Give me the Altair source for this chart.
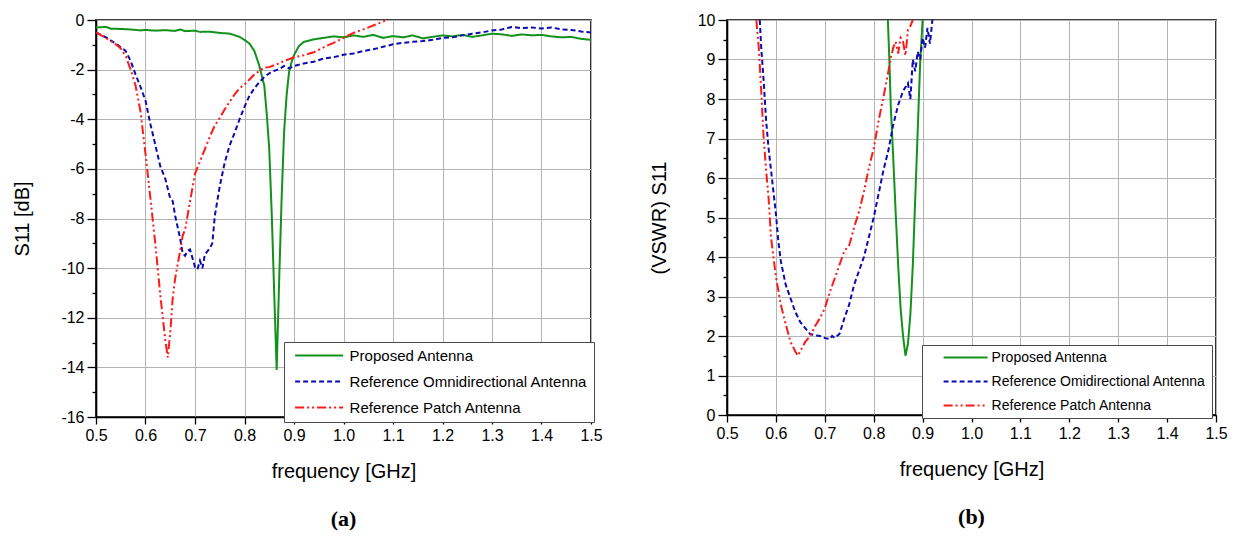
import altair as alt
import pandas as pd

# ---------------- data ----------------
NAMES_A = ["Proposed Antenna", "Reference Omnidirectional Antenna", "Reference Patch Antenna"]
NAMES_B = ["Proposed Antenna", "Reference Omidirectional Antenna", "Reference Patch Antenna"]

# Panel (a): S11 [dB]
a_prop_f = [0.50, 0.52, 0.53, 0.55, 0.57, 0.59, 0.60, 0.62, 0.64, 0.66, 0.67, 0.68, 0.70, 0.71, 0.73,
            0.75, 0.77, 0.79, 0.80, 0.81, 0.82, 0.83, 0.84, 0.845, 0.85, 0.855, 0.86, 0.865, 0.87,
            0.875, 0.88, 0.885, 0.89, 0.895, 0.90, 0.91, 0.92, 0.94, 0.96, 0.98, 1.00, 1.02, 1.04,
            1.06, 1.08, 1.10, 1.12, 1.14, 1.16, 1.18, 1.20, 1.22, 1.24, 1.26, 1.28, 1.30, 1.32,
            1.34, 1.36, 1.38, 1.40, 1.42, 1.44, 1.46, 1.48, 1.50]
a_prop_v = [-0.30, -0.28, -0.35, -0.36, -0.38, -0.42, -0.40, -0.43, -0.41, -0.44, -0.38, -0.45, -0.43,
            -0.48, -0.47, -0.52, -0.55, -0.68, -0.80, -0.95, -1.25, -1.85, -2.65, -3.80, -5.20, -7.80,
            -11.0, -14.1, -10.5, -7.20, -4.50, -3.05, -2.10, -1.70, -1.42, -1.05, -0.88, -0.78, -0.72,
            -0.66, -0.70, -0.62, -0.68, -0.60, -0.72, -0.65, -0.70, -0.62, -0.74, -0.68, -0.62, -0.66,
            -0.60, -0.68, -0.62, -0.55, -0.58, -0.64, -0.58, -0.62, -0.60, -0.66, -0.70, -0.68, -0.76,
            -0.80]

a_omni_f = [0.50, 0.52, 0.54, 0.55, 0.56, 0.57, 0.58, 0.59, 0.60, 0.61, 0.62, 0.63, 0.64, 0.65, 0.655,
            0.66, 0.67, 0.675, 0.68, 0.685, 0.69, 0.695, 0.70, 0.705, 0.71, 0.715, 0.72, 0.73, 0.735,
            0.74, 0.75, 0.76, 0.77, 0.78, 0.79, 0.80, 0.81, 0.82, 0.83, 0.84, 0.85, 0.86, 0.87, 0.88,
            0.89, 0.90, 0.92, 0.94, 0.96, 0.98, 1.00, 1.02, 1.04, 1.06, 1.08, 1.10, 1.12, 1.14, 1.16,
            1.18, 1.20, 1.22, 1.24, 1.26, 1.28, 1.30, 1.32, 1.34, 1.36, 1.38, 1.40, 1.42, 1.44, 1.46,
            1.48, 1.50]
a_omni_v = [-0.50, -0.70, -0.95, -1.10, -1.25, -1.65, -2.20, -2.70, -3.25, -4.20, -5.05, -5.90, -6.40,
            -7.20, -7.30, -7.90, -8.80, -9.40, -9.50, -9.30, -9.25, -9.60, -9.95, -10.05, -9.70, -10.0,
            -9.45, -9.20, -9.00, -7.90, -6.70, -5.75, -5.05, -4.55, -4.00, -3.50, -3.05, -2.75, -2.50,
            -2.30, -2.15, -2.05, -1.98, -1.85, -1.95, -1.85, -1.75, -1.68, -1.55, -1.50, -1.40, -1.35,
            -1.25, -1.18, -1.08, -0.98, -0.92, -0.88, -0.85, -0.80, -0.72, -0.70, -0.62, -0.55, -0.50,
            -0.42, -0.38, -0.28, -0.33, -0.30, -0.34, -0.30, -0.38, -0.40, -0.46, -0.50]

a_patch_f = [0.50, 0.52, 0.54, 0.55, 0.56, 0.57, 0.58, 0.59, 0.60, 0.61, 0.62, 0.63, 0.64, 0.645, 0.65,
             0.655, 0.66, 0.67, 0.675, 0.68, 0.69, 0.70, 0.71, 0.72, 0.73, 0.74, 0.75, 0.76, 0.77, 0.78,
             0.79, 0.80, 0.81, 0.82, 0.83, 0.84, 0.85, 0.86, 0.87, 0.88, 0.89, 0.90, 0.92, 0.94, 0.96,
             0.98, 1.00, 1.02, 1.04, 1.06, 1.08, 1.09]
a_patch_v = [-0.50, -0.72, -0.98, -1.15, -1.45, -2.00, -2.65, -3.70, -5.40, -7.20, -9.05, -11.1, -12.9,
             -13.6, -12.6, -11.2, -10.4, -9.30, -8.70, -8.45, -7.30, -6.20, -5.70, -5.20, -4.70, -4.25,
             -3.95, -3.60, -3.30, -3.00, -2.75, -2.60, -2.40, -2.20, -2.05, -1.92, -1.90, -1.82, -1.75,
             -1.65, -1.58, -1.50, -1.42, -1.30, -1.10, -0.92, -0.72, -0.52, -0.38, -0.22, -0.06, 0.00]

# Panel (b): VSWR
b_prop_f = [0.829, 0.832, 0.835, 0.840, 0.845, 0.850, 0.855, 0.860, 0.865, 0.870, 0.875, 0.880, 0.885,
            0.890, 0.895, 0.900]
b_prop_v = [10.0, 9.0, 7.8, 6.5, 5.1, 3.8, 2.7, 2.0, 1.5, 1.8, 2.55, 3.8, 5.5, 7.2, 8.9, 10.0]

b_omni_f = [0.567, 0.570, 0.575, 0.580, 0.585, 0.590, 0.595, 0.600, 0.605, 0.610, 0.620, 0.630, 0.640,
            0.650, 0.660, 0.670, 0.680, 0.690, 0.700, 0.710, 0.715, 0.720, 0.730, 0.740, 0.750, 0.760,
            0.770, 0.780, 0.790, 0.800, 0.810, 0.820, 0.830, 0.840, 0.850, 0.860, 0.870, 0.875, 0.880,
            0.885, 0.890, 0.895, 0.900, 0.905, 0.910, 0.915, 0.920]
b_omni_v = [10.0, 9.3, 8.45, 7.45, 6.75, 6.2, 5.65, 5.1, 4.4, 3.9, 3.3, 2.95, 2.6, 2.35, 2.2, 2.05, 2.02,
            2.0, 1.95, 1.92, 2.0, 1.95, 2.05, 2.45, 2.8, 3.3, 3.65, 4.0, 4.5, 5.0, 5.6, 6.2, 6.7, 7.35,
            7.85, 8.2, 8.4, 8.0, 9.0, 8.7, 9.2, 9.0, 9.55, 9.3, 9.8, 9.4, 10.0]

b_patch_f = [0.560, 0.565, 0.570, 0.575, 0.580, 0.585, 0.590, 0.595, 0.600, 0.610, 0.620, 0.630, 0.640,
             0.645, 0.650, 0.660, 0.670, 0.680, 0.690, 0.700, 0.710, 0.720, 0.730, 0.740, 0.750, 0.760,
             0.770, 0.780, 0.790, 0.800, 0.810, 0.820, 0.830, 0.835, 0.840, 0.845, 0.850, 0.855, 0.860,
             0.865, 0.870, 0.875, 0.880]
b_patch_v = [10.0, 9.3, 8.2, 7.0, 6.2, 5.5, 4.5, 4.0, 3.5, 2.8, 2.3, 1.85, 1.6, 1.5, 1.62, 1.85, 2.0,
             2.25, 2.45, 2.7, 3.1, 3.45, 3.8, 4.15, 4.3, 4.75, 5.15, 5.65, 6.25, 6.75, 7.45, 8.05, 8.7,
             9.05, 9.3, 9.45, 9.15, 9.55, 9.45, 9.1, 9.75, 9.85, 10.0]

X_TICKS = [0.5, 0.6, 0.7, 0.8, 0.9, 1.0, 1.1, 1.2, 1.3, 1.4, 1.5]
A_Y_MAJOR = [0, -2, -4, -6, -8, -10, -12, -14, -16]
A_Y_MINOR = [-1, -3, -5, -7, -9, -11, -13, -15]
B_Y_MAJOR = [0, 1, 2, 3, 4, 5, 6, 7, 8, 9, 10]
B_Y_MINOR = [0.5, 1.5, 2.5, 3.5, 4.5, 5.5, 6.5, 7.5, 8.5, 9.5]

COLORS = ["#12921a", "#0b0bb0", "#ff1a1a"]
DASHES = [[1, 0], [5, 3], [9, 3, 2, 3, 2, 3]]
WIDTHS = [2.0, 2.0, 1.6]

FONT = "Liberation Sans"


def frame(series):
    rows = []
    for name, fs, vs in series:
        for f, v in zip(fs, vs):
            rows.append({"f": f, "v": v, "s": name})
    return pd.DataFrame(rows)


def panel(df, names, ydom, ymaj, ymin, ytitle, w, h, lab_size, sym_path, lab_off, row_pad,
          leg_pad, ttl_pad, lx, ly, cap, ytitle_pad):
    xscale = alt.Scale(domain=[0.5, 1.5], nice=False, zero=False)
    yscale = alt.Scale(domain=ydom, nice=False, zero=False)
    xaxis = alt.Axis(values=X_TICKS, format=".1f", title="frequency [GHz]", grid=True,
                     labelFontSize=16, titleFontSize=20, tickSize=7, labelPadding=3,
                     titlePadding=18, labelFlush=False)
    leg = alt.Legend(title=".", titleFontSize=5, titlePadding=ttl_pad, titleOrient="left",
                     titleColor="rgba(0,0,0,0)",
                     orient="none", legendX=lx, legendY=ly, symbolType=sym_path,
                     symbolSize=144, symbolStrokeWidth=2, labelFontSize=lab_size,
                     labelFont=FONT, labelColor="black", fillColor="white", strokeColor="#4a4a4a",
                     padding=leg_pad, rowPadding=row_pad, labelOffset=lab_off, labelLimit=400)
    lines = alt.Chart(df).mark_line(clip=True).encode(
        x=alt.X("f:Q", scale=xscale, axis=xaxis),
        y=alt.Y("v:Q", scale=yscale,
                axis=alt.Axis(values=ymaj, labelExpr="toString(datum.value)", title=ytitle,
                              grid=True, labelFontSize=16, titleFontSize=20, tickSize=9,
                              labelPadding=3, titlePadding=ytitle_pad)),
        color=alt.Color("s:N", scale=alt.Scale(domain=names, range=COLORS), legend=leg),
        strokeDash=alt.StrokeDash("s:N", scale=alt.Scale(domain=names, range=DASHES), legend=leg),
        strokeWidth=alt.StrokeWidth("s:N", scale=alt.Scale(domain=names, range=WIDTHS), legend=None),
    )
    minor = alt.Chart(df).mark_point(opacity=0).encode(
        x=alt.X("f:Q", scale=xscale, axis=xaxis),
        y=alt.Y("v:Q", scale=yscale,
                axis=alt.Axis(values=ymin, labels=False, title=None, grid=False, domain=False,
                              tickSize=4, orient="left")),
    )
    return alt.layer(lines, minor).resolve_axis(y="independent").properties(
        width=w, height=h,
        title=alt.TitleParams(cap, orient="bottom", font="Liberation Serif", fontSize=22,
                              fontWeight="bold", offset=28, anchor="middle", color="black"),
    )


df_a = frame([(NAMES_A[0], a_prop_f, a_prop_v), (NAMES_A[1], a_omni_f, a_omni_v),
              (NAMES_A[2], a_patch_f, a_patch_v)])
df_b = frame([(NAMES_B[0], b_prop_f, b_prop_v), (NAMES_B[1], b_omni_f, b_omni_v),
              (NAMES_B[2], b_patch_f, b_patch_v)])

left = panel(df_a, NAMES_A, [-16, 0], A_Y_MAJOR, A_Y_MINOR, "S11 [dB]", 495, 397, 15,
             "M-1,0H7", 41, 10, 6, 1.6, 188, 322, "(a)", 28)
right = panel(df_b, NAMES_B, [0, 10], B_Y_MAJOR, B_Y_MINOR, "(VSWR) S11", 489, 395, 14,
              "M-1,0H6.333", 35, 10, 5.5, 13.1, 195, 325, "(b)", 28)

chart = alt.hconcat(left, right, spacing=45).resolve_scale(
    color="independent", strokeDash="independent", strokeWidth="independent"
).resolve_legend(
    color="independent", strokeDash="independent"
).properties(
    padding={"left": 12, "top": 11, "right": 5, "bottom": 5}
).configure(
    font=FONT, background="white"
).configure_view(
    stroke="black", strokeWidth=1.6
).configure_axis(
    labelFont=FONT, titleFont=FONT, labelColor="black", titleColor="black",
    titleFontWeight="normal", domainColor="black", domainWidth=1.6, tickColor="black",
    tickWidth=1.3, gridColor="#b4b4b4", gridWidth=1
)

chart.save("out.html", embed_options={"renderer": "svg", "actions": False})
